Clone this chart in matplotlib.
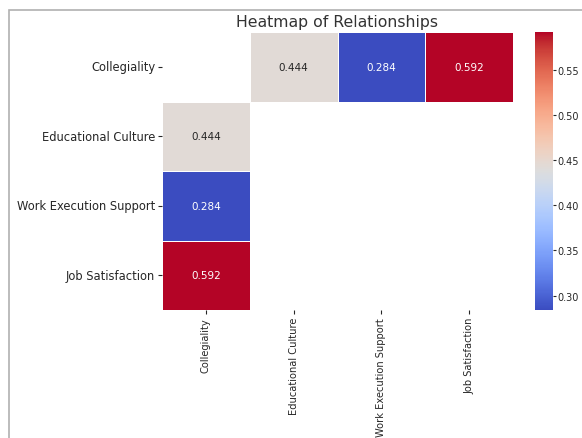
import numpy as np
import matplotlib
matplotlib.use('Agg')
import matplotlib.pyplot as plt
import seaborn as sns
from matplotlib.patches import Rectangle

labels = ['Collegiality', 'Educational Culture', 'Work Execution Support', 'Job Satisfaction']
collegiality_links = [0.444, 0.284, 0.592]
cbar_ticks = [0.30, 0.35, 0.40, 0.45, 0.50, 0.55]

# matrix with only the Collegiality row / column filled
n = len(labels)
matrix = np.full((n, n), np.nan)
for i, v in enumerate(collegiality_links):
    matrix[0, i + 1] = v
    matrix[i + 1, 0] = v

plt.rcParams['text.color'] = '#262626'
plt.rcParams['xtick.color'] = '#262626'
plt.rcParams['ytick.color'] = '#262626'

fig = plt.figure(figsize=(5.82, 4.39), dpi=100)
ax = fig.add_axes([162 / 582, 1 - 311 / 439, 351 / 582, 278 / 439])
cax = fig.add_axes([535 / 582, 1 - 311 / 439, 18 / 582, 278 / 439])

sns.heatmap(matrix, ax=ax, cbar_ax=cax, cmap='coolwarm', annot=True, fmt='.3f',
            linewidths=0.6, linecolor='white', xticklabels=labels, yticklabels=labels,
            annot_kws={'fontsize': 7.5})

ax.set_title('Heatmap of Relationships', fontsize=11.3, pad=4, color='#333333')
ax.tick_params(axis='x', labelrotation=90, labelsize=7.1, length=3, pad=2)
ax.tick_params(axis='y', labelrotation=0, labelsize=8.3, length=3, pad=2)
cax.set_yticks(cbar_ticks)
cax.tick_params(labelsize=7, length=2.5, pad=1)

# grey frame of the outer figure
fig.patches.append(Rectangle((9 / 582, -0.1), 1.2, 1.1 - 11 / 439,
                             transform=fig.transFigure, fill=False,
                             edgecolor='#b0b0b0', linewidth=1.2))

fig.savefig('out.png', dpi=100)
